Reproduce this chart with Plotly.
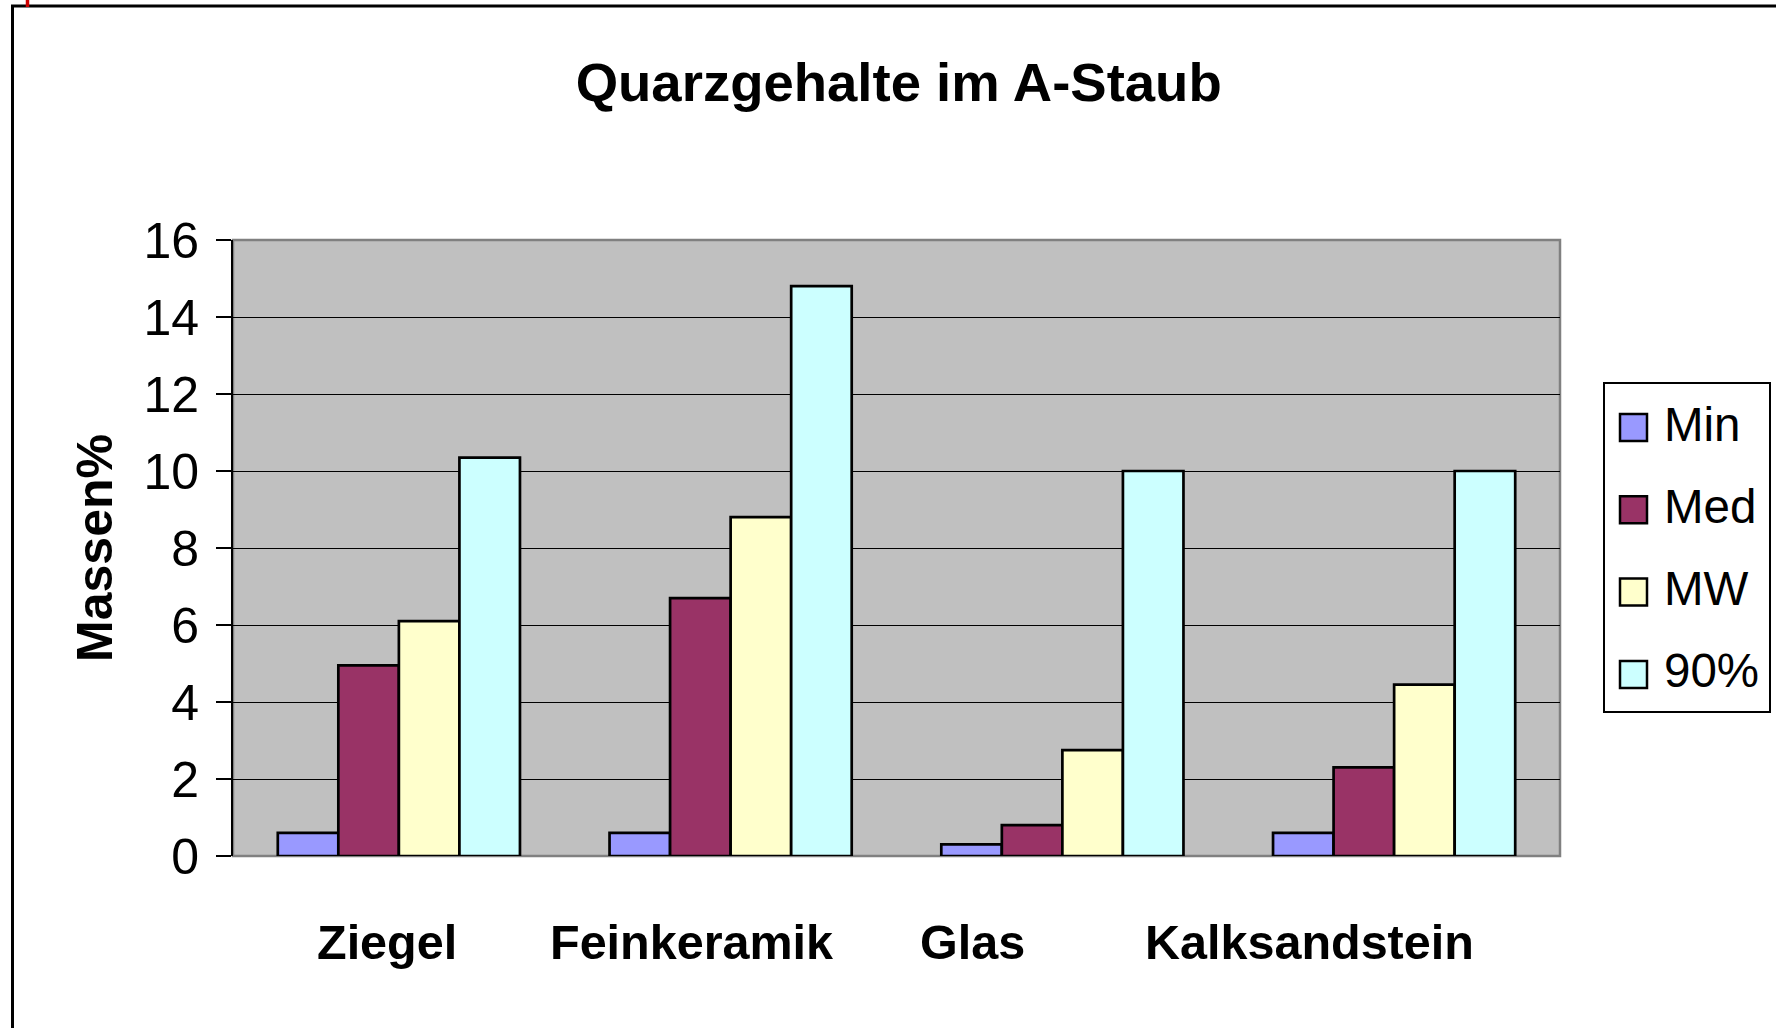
import plotly.graph_objects as go

categories = ["Ziegel", "Feinkeramik", "Glas", "Kalksandstein"]
series_names = ["Min", "Med", "MW", "90%"]
min_vals = [0.6, 0.6, 0.3, 0.6]
med_vals = [4.95, 6.7, 0.8, 2.3]
mw_vals = [6.1, 8.8, 2.75, 4.45]
p90_vals = [10.35, 14.8, 10.0, 10.0]
y_ticks = [0, 2, 4, 6, 8, 10, 12, 14, 16]
colors = ["#9999FF", "#993366", "#FFFFCC", "#CCFFFF"]
label_shift = [-12, -39, -90, -85]

FONT = "Liberation Sans, Arial, sans-serif"
W, H = 1776, 1028
L, R, T, B = 233, 216, 240, 172
pw, ph = W - L - R, H - T - B


def px_x(p):
    return (p - L) / pw


def px_y(p):
    return (H - B - p) / ph


fig = go.Figure()
all_vals = [min_vals, med_vals, mw_vals, p90_vals]
for name, vals, col in zip(series_names, all_vals, colors):
    fig.add_trace(go.Bar(
        x=categories, y=vals, name=name, showlegend=False,
        marker=dict(color=col, line=dict(color="black", width=2.7)),
    ))

annotations = []
for c, s in zip(categories, label_shift):
    annotations.append(dict(
        x=c, xref="x", y=px_y(942), yref="paper", text=f"<b>{c}</b>",
        showarrow=False, xshift=s, yanchor="middle",
        font=dict(family=FONT, size=48.5, color="black"),
    ))

shapes = [
    dict(type="rect", xref="paper", yref="paper", x0=0, x1=1, y0=0, y1=1,
         line=dict(color="#808080", width=2.5), layer="below"),
    dict(type="line", xref="paper", yref="paper", x0=px_x(12.5), x1=px_x(12.5),
         y0=px_y(1100), y1=px_y(5), line=dict(color="black", width=3)),
    dict(type="line", xref="paper", yref="paper", x0=px_x(11), x1=px_x(1900),
         y0=px_y(6), y1=px_y(6), line=dict(color="black", width=3)),
    dict(type="line", xref="paper", yref="paper", x0=px_x(27.5), x1=px_x(27.5),
         y0=px_y(-2), y1=px_y(7), line=dict(color="#CC0000", width=3.5)),
    # legend box
    dict(type="rect", xref="paper", yref="paper", x0=px_x(1604), x1=px_x(1770),
         y0=px_y(712), y1=px_y(383), fillcolor="white",
         line=dict(color="black", width=2)),
]

# legend entries
leg_top, leg_step = 427.5, 82.3
for i, (name, col) in enumerate(zip(series_names, colors)):
    cy = leg_top + i * leg_step
    shapes.append(dict(
        type="rect", xref="paper", yref="paper",
        x0=px_x(1620), x1=px_x(1647), y0=px_y(cy + 13.5), y1=px_y(cy - 13.5),
        fillcolor=col, line=dict(color="black", width=2.5)))
    annotations.append(dict(
        x=px_x(1662), xref="paper", y=px_y(cy - 3.5), yref="paper", text=name,
        showarrow=False, xanchor="left", yanchor="middle",
        font=dict(family=FONT, size=47.5, color="black")))

fig.update_layout(
    width=W, height=H,
    margin=dict(l=L, r=R, t=T, b=B, autoexpand=False),
    paper_bgcolor="white", plot_bgcolor="#C0C0C0",
    barmode="group", bargap=0.27, bargroupgap=0,
    showlegend=False,
    font=dict(family=FONT, color="black"),
    title=dict(text="<b>Quarzgehalte im A-Staub</b>", x=px_x(904.5), xanchor="center",
               y=1 - 82 / H, yanchor="middle", yref="container",
               font=dict(family=FONT, size=54.5, color="black")),
    xaxis=dict(showticklabels=False, showgrid=False, zeroline=False,
               showline=False, ticks=""),
    yaxis=dict(range=[0, 16], tickvals=y_ticks, showgrid=True,
               gridcolor="black", gridwidth=1.2, zeroline=False,
               showline=True, linecolor="black", linewidth=2,
               ticks="outside", ticklen=15, tickcolor="black", tickwidth=2,
               ticklabelstandoff=7,
               tickfont=dict(family=FONT, size=50, color="black"),
               title=dict(text="<b>Massen%</b>", standoff=15,
                          font=dict(family=FONT, size=50, color="black"))),
    annotations=annotations, shapes=shapes,
)

fig.write_html("out.html", config={"displayModeBar": False},
               post_script="document.body.style.margin='0';")
